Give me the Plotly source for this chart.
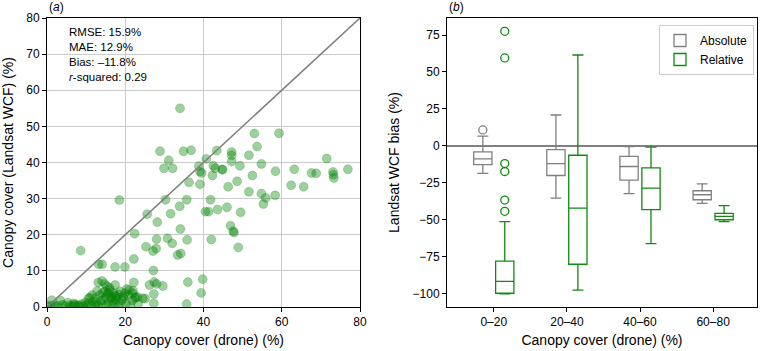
import plotly.graph_objects as go

# ---------------- data: panel (a) scatter ----------------
drone_cover = [
    34.0, 28.9, 34.9, 36.8, 31.1, 29.9, 32.1, 38.8, 40.7, 43.4, 47.2, 47.2, 47.2, 51.6, 53.7, 53.0,
    59.3, 54.8, 49.3, 44.7, 44.9, 42.5, 43.0, 63.2, 71.5, 76.9, 67.6, 68.8, 73.1, 73.2, 73.3, 58.4,
    52.5, 39.1, 39.5, 42.3, 36.3, 39.1, 46.3, 48.6, 51.6, 54.8, 55.9, 55.3, 30.3, 35.7, 33.9, 41.8,
    31.6, 40.5, 41.3, 43.6, 46.0, 49.5, 18.5, 25.6, 28.2, 46.9, 47.6, 47.8, 42.0, 48.9, 34.1, 22.4,
    28.0, 30.8, 35.8, 32.0, 25.3, 27.9, 27.1, 33.4, 34.2, 8.6, 22.2, 13.2, 14.1, 17.4, 19.9, 27.2,
    22.2, 36.0, 39.8, 26.2, 27.4, 28.0, 29.6, 27.3, 39.4, 23.1, 25.1, 27.3, 35.7, 13.1, 14.1, 14.7,
    17.4, 62.4, 65.6, 58.3,
    0.2, 0.8, 1.5, 2.0, 2.9, 3.4, 1.2, 4.0, 4.6, 5.3, 5.8, 6.3, 7.0, 7.2, 8.0, 8.9, 9.3, 9.8, 10.1,
    10.6, 11.0, 11.4, 11.8, 12.3, 12.3, 12.7, 13.0, 13.5, 13.8, 14.0, 14.4, 14.8, 15.0, 15.2, 15.5,
    15.7, 16.1, 16.3, 16.5, 16.8, 17.0, 17.4, 17.6, 17.8, 18.2, 18.7, 18.7, 19.1, 19.5, 19.9, 20.2,
    20.4, 20.8, 21.0, 21.3, 21.8, 22.5, 23.3, 16.0, 15.3, 14.2, 12.8, 11.5, 18.3, 19.6, 22.0, 8.2,
    6.8, 24.5, 22.7, 21.9, 15.7, 16.5, 17.4, 10.6,
]
landsat_cover = [
    55.0, 43.1, 43.1, 43.4, 40.6, 38.4, 38.4, 39.0, 41.0, 43.3, 42.9, 42.0, 40.3, 42.0, 44.4, 48.0,
    48.1, 39.6, 39.1, 38.1, 38.0, 39.1, 38.4, 38.1, 41.1, 38.1, 37.1, 37.0, 37.4, 36.6, 35.7, 37.6,
    36.4, 37.5, 37.1, 36.4, 34.5, 34.0, 33.3, 34.8, 31.9, 31.4, 30.2, 28.5, 29.7, 29.7, 27.9, 29.7,
    25.8, 26.4, 26.4, 27.0, 27.6, 26.2, 29.6, 25.7, 23.5, 22.5, 21.0, 20.6, 18.7, 16.5, 21.6, 20.3,
    18.8, 19.0, 18.6, 17.6, 16.7, 16.2, 15.5, 14.4, 14.8, 15.6, 13.3, 11.8, 11.8, 11.1, 11.1, 10.1,
    6.8, 6.9, 7.7, 6.1, 6.9, 6.4, 5.8, 3.6, 3.9, 2.8, 2.3, 1.0, 0.8, 6.8, 7.2, 6.4,
    6.1, 33.7, 33.3, 30.9,
    0.1, 0.4, 0.2, 0.5, 0.3, 1.8, 1.9, 0.6, 0.3, 1.2, 0.4, 0.2, 0.5, 0.7, 0.3, 0.8, 0.2, 1.2, 0.5,
    1.0, 2.6, 0.3, 1.5, 2.4, 0.6, 1.0, 0.3, 3.3, 1.8, 0.8, 1.9, 4.3, 2.8, 0.4, 3.6,
    1.2, 4.7, 2.5, 0.6, 1.6, 3.8, 1.0, 2.2, 2.9, 0.5, 4.3, 1.0, 1.9, 3.0, 3.8, 1.0,
    5.0, 3.3, 4.7, 0.4, 1.8, 2.5, 0.9, 5.3, 5.8, 3.9, 4.4, 3.3, 3.5, 2.4, 4.5, 0.5,
    1.0, 2.4, 2.7, 3.8, 4.0, 2.7, 3.1, 2.4,
]
one_to_one = [0, 80]
stats_lines = ["RMSE: 15.9%", "MAE: 12.9%", "Bias: \u201311.8%", "<i>r</i>-squared: 0.29"]

# ---------------- data: panel (b) box plots ----------------
categories = ["0\u201320", "20\u201340", "40\u201360", "60\u201380"]
abs_q1 = [-12.6, -20.0, -23.1, -36.4]
abs_median = [-8.8, -11.9, -13.9, -33.0]
abs_q3 = [-4.0, -2.5, -7.0, -30.3]
abs_lower = [-18.6, -35.3, -32.3, -38.9]
abs_upper = [6.7, 20.9, -0.5, -25.6]
abs_outlier_cat = ["0\u201320"]
abs_outlier_val = [10.8]

rel_q1 = [-99.6, -80.0, -43.1, -49.9]
rel_median = [-91.6, -42.0, -28.5, -47.6]
rel_q3 = [-77.9, -6.3, -14.8, -45.6]
rel_lower = [-100.0, -97.5, -66.0, -51.2]
rel_upper = [-51.2, 61.5, -0.8, -40.4]
rel_outlier_cat = ["0\u201320"] * 6
rel_outlier_val = [77.5, 59.5, -11.9, -17.3, -36.6, -44.2]

# ---------------- styling ----------------
GREY = "#808080"
GREEN = "#108a10"
FONT = "Liberation Sans, Arial, sans-serif"
OFFSET = 0.15

fig = go.Figure()

fig.add_trace(go.Scatter(
    x=drone_cover, y=landsat_cover, mode="markers", xaxis="x", yaxis="y",
    marker=dict(size=9, color="rgba(0,128,0,0.38)", line=dict(color="rgba(0,128,0,0.22)", width=1)),
    showlegend=False, hoverinfo="skip"))
fig.add_trace(go.Scatter(
    x=one_to_one, y=one_to_one, mode="lines", xaxis="x", yaxis="y",
    line=dict(color=GREY, width=1.6), showlegend=False, hoverinfo="skip"))

pos = {c: i + 1 for i, c in enumerate(categories)}

fig.add_trace(go.Box(
    name="Absolute", x=[pos[c] - OFFSET for c in categories],
    q1=abs_q1, median=abs_median, q3=abs_q3, lowerfence=abs_lower, upperfence=abs_upper,
    width=0.25, whiskerwidth=0.6, fillcolor="white", line=dict(color=GREY, width=1.3),
    boxpoints=False, xaxis="x2", yaxis="y2"))
fig.add_trace(go.Box(
    name="Relative", x=[pos[c] + OFFSET for c in categories],
    q1=rel_q1, median=rel_median, q3=rel_q3, lowerfence=rel_lower, upperfence=rel_upper,
    width=0.25, whiskerwidth=0.6, fillcolor="white", line=dict(color=GREEN, width=1.3),
    boxpoints=False, xaxis="x2", yaxis="y2"))
fig.add_trace(go.Scatter(
    x=[pos[c] - OFFSET for c in abs_outlier_cat], y=abs_outlier_val, mode="markers",
    marker=dict(symbol="circle-open", size=8, color=GREY, line=dict(width=1.3)),
    xaxis="x2", yaxis="y2", showlegend=False))
fig.add_trace(go.Scatter(
    x=[pos[c] + OFFSET for c in rel_outlier_cat], y=rel_outlier_val, mode="markers",
    marker=dict(symbol="circle-open", size=8, color=GREEN, line=dict(width=1.3)),
    xaxis="x2", yaxis="y2", showlegend=False))

axis_common = dict(showline=True, linecolor="black", linewidth=1, mirror=True,
                   ticks="outside", ticklen=4, tickcolor="black",
                   automargin=False, tickfont=dict(size=12, color="black", family=FONT))

W, H = 761, 351
ML, MR, MT, MB = 47, 4, 18, 44
IW = W - ML - MR

fig.update_layout(
    width=W, height=H, margin=dict(l=ML, r=MR, t=MT, b=MB),
    paper_bgcolor="white", plot_bgcolor="white",
    font=dict(family=FONT, size=12, color="black"),
    xaxis=dict(domain=[0, 313 / IW], range=[0, 80], tickvals=[0, 20, 40, 60, 80],
               showgrid=True, gridcolor="#cbcbcb", gridwidth=1, anchor="y", zeroline=False,
               title=dict(text="Canopy cover (drone) (%)", font=dict(size=14), standoff=6),
               **axis_common),
    yaxis=dict(domain=[0, 1], range=[0, 80], tickvals=[0, 10, 20, 30, 40, 50, 60, 70, 80],
               showgrid=True, gridcolor="#cbcbcb", gridwidth=1, anchor="x", zeroline=False,
               title=dict(text="Canopy cover (Landsat WCF) (%)", font=dict(size=14), standoff=9),
               **axis_common),
    xaxis2=dict(domain=[400 / IW, 1], range=[0.36, 4.6], tickvals=[1, 2, 3, 4], ticktext=categories,
                showgrid=False, anchor="y2", zeroline=False,
                title=dict(text="Canopy cover (drone) (%)", font=dict(size=14), standoff=6),
                **axis_common),
    yaxis2=dict(domain=[0, 1], range=[-108.9, 86.5], tickvals=[-100, -75, -50, -25, 0, 25, 50, 75],
                showgrid=False, anchor="x2",
                title=dict(text="Landsat WCF bias (%)", font=dict(size=14), standoff=9),
                zeroline=True, zerolinecolor=GREY, zerolinewidth=1.6,
                **axis_common),
    showlegend=True,
    legend=dict(x=(754 - ML) / IW, y=1 - (25 - MT) / (H - MT - MB), xanchor="right", yanchor="top",
                bgcolor="white", bordercolor="#cccccc", borderwidth=1, font=dict(size=12)),
    annotations=[
        dict(text="(<i>a</i>)", xref="paper", yref="paper", x=0.0, y=1, xanchor="left",
             yanchor="bottom", yshift=2, showarrow=False, font=dict(size=12)),
        dict(text="(<i>b</i>)", xref="paper", yref="paper", x=400 / IW, y=1, xanchor="left",
             yanchor="bottom", yshift=2, showarrow=False, font=dict(size=12)),
        dict(text="<br>".join(stats_lines), xref="x domain", yref="y domain", x=0.063, y=0.978,
             xanchor="left", yanchor="top", align="left", showarrow=False, font=dict(size=11.5)),
    ],
)

fig.write_html("out.html", config={"displayModeBar": False},
               post_script="document.body.style.margin='0';document.body.style.padding='0';")
